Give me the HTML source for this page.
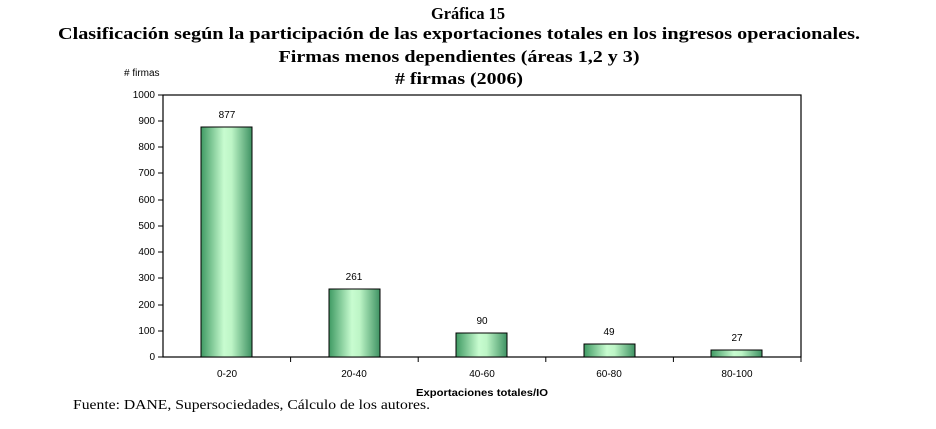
<!DOCTYPE html>
<html><head><meta charset="utf-8"><style>
body{margin:0;background:#fff;width:936px;height:429px;overflow:hidden}
svg{display:block}
.t{font-family:"Liberation Serif",serif;font-weight:bold;font-size:17px;text-anchor:middle}
.s{font-family:"Liberation Sans",sans-serif;font-size:10px}
</style></head><body>
<svg width="936" height="429" xmlns="http://www.w3.org/2000/svg">
<defs><linearGradient id="g" x1="0" x2="1" y1="0" y2="0">
<stop offset="0" stop-color="#3f9a63"/><stop offset="0.45" stop-color="#c8fcd0"/><stop offset="0.6" stop-color="#bdf5c6"/><stop offset="1" stop-color="#3f9263"/></linearGradient></defs>
<text class="t" x="468" y="19" textLength="74" lengthAdjust="spacingAndGlyphs">Gráfica 15</text>
<text class="t" x="459" y="39" textLength="802" lengthAdjust="spacingAndGlyphs">Clasificación según la participación de las exportaciones totales en los ingresos operacionales.</text>
<text class="t" x="459" y="62" textLength="361" lengthAdjust="spacingAndGlyphs">Firmas menos dependientes (áreas 1,2 y 3)</text>
<text class="t" x="459" y="84" textLength="128" lengthAdjust="spacingAndGlyphs"># firmas (2006)</text>
<text class="s" x="124" y="76"># firmas</text>
<rect x="163" y="95" width="638" height="262" fill="none" stroke="#000" stroke-width="1.2"/>
<g class="s" text-anchor="end">
<text x="155" y="360">0</text><text x="155" y="334">100</text><text x="155" y="308">200</text><text x="155" y="281">300</text><text x="155" y="255">400</text><text x="155" y="229">500</text><text x="155" y="203">600</text><text x="155" y="176">700</text><text x="155" y="150">800</text><text x="155" y="124">900</text><text x="155" y="98">1000</text>
</g>
<g stroke="#000">
<line x1="158" y1="357" x2="163" y2="357"/><line x1="158" y1="331" x2="163" y2="331"/><line x1="158" y1="305" x2="163" y2="305"/><line x1="158" y1="278" x2="163" y2="278"/><line x1="158" y1="252" x2="163" y2="252"/><line x1="158" y1="226" x2="163" y2="226"/><line x1="158" y1="200" x2="163" y2="200"/><line x1="158" y1="173" x2="163" y2="173"/><line x1="158" y1="147" x2="163" y2="147"/><line x1="158" y1="121" x2="163" y2="121"/><line x1="158" y1="95" x2="163" y2="95"/>
<line x1="290.6" y1="357" x2="290.6" y2="362"/><line x1="418.2" y1="357" x2="418.2" y2="362"/><line x1="545.8" y1="357" x2="545.8" y2="362"/><line x1="673.4" y1="357" x2="673.4" y2="362"/><line x1="801" y1="357" x2="801" y2="362"/>
</g>
<g fill="url(#g)" stroke="#000" stroke-width="1">
<rect x="201" y="127" width="51" height="230"/>
<rect x="329" y="289" width="51" height="68"/>
<rect x="456" y="333" width="51" height="24"/>
<rect x="584" y="344" width="51" height="13"/>
<rect x="711" y="350" width="51" height="7"/>
</g>
<g class="s" text-anchor="middle">
<text x="227" y="118">877</text><text x="354" y="280">261</text><text x="482" y="324">90</text><text x="609" y="335">49</text><text x="737" y="341">27</text>
<text x="227" y="377">0-20</text><text x="354" y="377">20-40</text><text x="482" y="377">40-60</text><text x="609" y="377">60-80</text><text x="737" y="377">80-100</text>
<text x="482" y="396" font-weight="bold" textLength="132" lengthAdjust="spacingAndGlyphs">Exportaciones totales/IO</text>
</g>
<text x="73" y="409" font-family="Liberation Serif,serif" font-size="14" textLength="357" lengthAdjust="spacingAndGlyphs">Fuente: DANE, Supersociedades, Cálculo de los autores.</text>
</svg>
</body></html>
